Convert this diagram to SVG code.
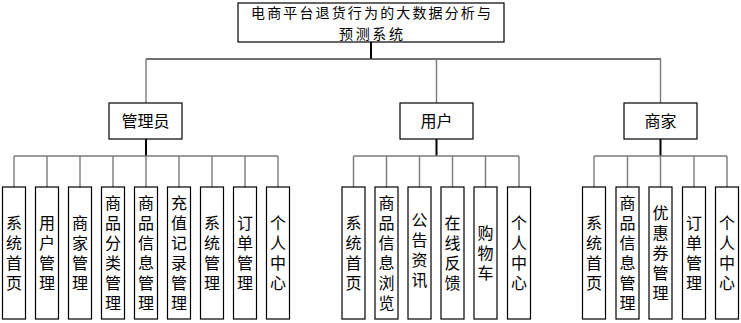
<svg xmlns="http://www.w3.org/2000/svg" width="741" height="323" viewBox="0 0 741 323">
<style>
.box{fill:#fff;stroke:#000;stroke-width:1.2}
.t{font-family:"Noto Sans CJK SC","Noto Sans",sans-serif;font-size:16px;fill:#000;text-anchor:middle}
.tt{font-family:"Noto Sans CJK SC","Noto Sans",sans-serif;font-size:14px;fill:#000;text-anchor:middle}
.v{font-family:"Noto Sans CJK SC","Noto Sans",sans-serif;font-size:16px;fill:#000;writing-mode:vertical-rl;letter-spacing:4px}
.g{stroke:#7a7a7a;stroke-width:1.4;fill:none}
.k{stroke:#000;stroke-width:2;fill:none}
.h{stroke:#404040;stroke-width:1.4;fill:none}
</style>
<rect width="741" height="323" fill="#fff"/>
<g id="connectors">
<line class="k" x1="371" y1="42" x2="371" y2="59"/>
<line class="h" x1="146" y1="59" x2="661" y2="59"/>
<line class="g" x1="146" y1="59" x2="146" y2="103"/>
<line class="g" x1="436.5" y1="59" x2="436.5" y2="103"/>
<line class="g" x1="660.5" y1="59" x2="660.5" y2="103"/>
<line class="k" x1="146" y1="139" x2="146" y2="156"/>
<line class="k" x1="436.5" y1="139" x2="436.5" y2="156"/>
<line class="k" x1="660.5" y1="139" x2="660.5" y2="156"/>
<line class="g" x1="14" y1="156" x2="278" y2="156"/>
<line class="g" x1="353.5" y1="156" x2="519" y2="156"/>
<line class="g" x1="594" y1="156" x2="727" y2="156"/>
<path class="g" d="M14 156V187M47 156V187M80 156V187M113 156V187M146 156V187M179 156V187M212 156V187M245 156V187M278 156V187"/>
<path class="g" d="M353.5 156V187M386.5 156V187M419.5 156V187M452.5 156V187M485.5 156V187M519 156V187"/>
<path class="g" d="M594 156V187M627.5 156V187M660.5 156V187M694 156V187M727 156V187"/>
</g>
<g id="root">
<rect class="box" x="238" y="3" width="266" height="39"/>
<text class="tt" x="371" y="18" textLength="240" lengthAdjust="spacing">电商平台退货行为的大数据分析与</text>
<text class="tt" x="371" y="38.5" textLength="64" lengthAdjust="spacing">预测系统</text>
</g>
<g id="admin">
<rect class="box" x="109" y="103" width="73" height="36"/>
<text class="t" x="145.5" y="127">管理员</text>
</g>
<g id="user">
<rect class="box" x="400" y="103" width="73" height="36"/>
<text class="t" x="436.5" y="127">用户</text>
</g>
<g id="merchant">
<rect class="box" x="624" y="103" width="73" height="36"/>
<text class="t" x="660.5" y="127">商家</text>
</g>
<g id="a1"><rect class="box" x="2.5" y="187" width="23" height="132"/><text class="v" x="14" y="215">系统首页</text></g>
<g id="a2"><rect class="box" x="35.5" y="187" width="23" height="132"/><text class="v" x="47" y="215">用户管理</text></g>
<g id="a3"><rect class="box" x="68.5" y="187" width="23" height="132"/><text class="v" x="80" y="215">商家管理</text></g>
<g id="a4"><rect class="box" x="101.5" y="187" width="23" height="132"/><text class="v" x="113" y="195">商品分类管理</text></g>
<g id="a5"><rect class="box" x="134.5" y="187" width="23" height="132"/><text class="v" x="146" y="195">商品信息管理</text></g>
<g id="a6"><rect class="box" x="167.5" y="187" width="23" height="132"/><text class="v" x="179" y="195">充值记录管理</text></g>
<g id="a7"><rect class="box" x="200.5" y="187" width="23" height="132"/><text class="v" x="212" y="215">系统管理</text></g>
<g id="a8"><rect class="box" x="233.5" y="187" width="23" height="132"/><text class="v" x="245" y="215">订单管理</text></g>
<g id="a9"><rect class="box" x="266.5" y="187" width="23" height="132"/><text class="v" x="278" y="215">个人中心</text></g>
<g id="u1"><rect class="box" x="342" y="187" width="23" height="132"/><text class="v" x="353.5" y="215">系统首页</text></g>
<g id="u2"><rect class="box" x="375" y="187" width="23" height="132"/><text class="v" x="386.5" y="195">商品信息浏览</text></g>
<g id="u3"><rect class="box" x="408" y="187" width="23" height="132"/><text class="v" x="419.5" y="212">公告资讯</text></g>
<g id="u4"><rect class="box" x="441" y="187" width="23" height="132"/><text class="v" x="452.5" y="215">在线反馈</text></g>
<g id="u5"><rect class="box" x="474" y="187" width="23" height="132"/><text class="v" x="485.5" y="225">购物车</text></g>
<g id="u6"><rect class="box" x="507.5" y="187" width="23" height="132"/><text class="v" x="519" y="215">个人中心</text></g>
<g id="m1"><rect class="box" x="582.5" y="187" width="23" height="132"/><text class="v" x="594" y="215">系统首页</text></g>
<g id="m2"><rect class="box" x="616" y="187" width="23" height="132"/><text class="v" x="627.5" y="195">商品信息管理</text></g>
<g id="m3"><rect class="box" x="649" y="187" width="23" height="132"/><text class="v" x="660.5" y="205">优惠券管理</text></g>
<g id="m4"><rect class="box" x="682.5" y="187" width="23" height="132"/><text class="v" x="694" y="215">订单管理</text></g>
<g id="m5"><rect class="box" x="715.5" y="187" width="23" height="132"/><text class="v" x="727" y="215">个人中心</text></g>
</svg>
